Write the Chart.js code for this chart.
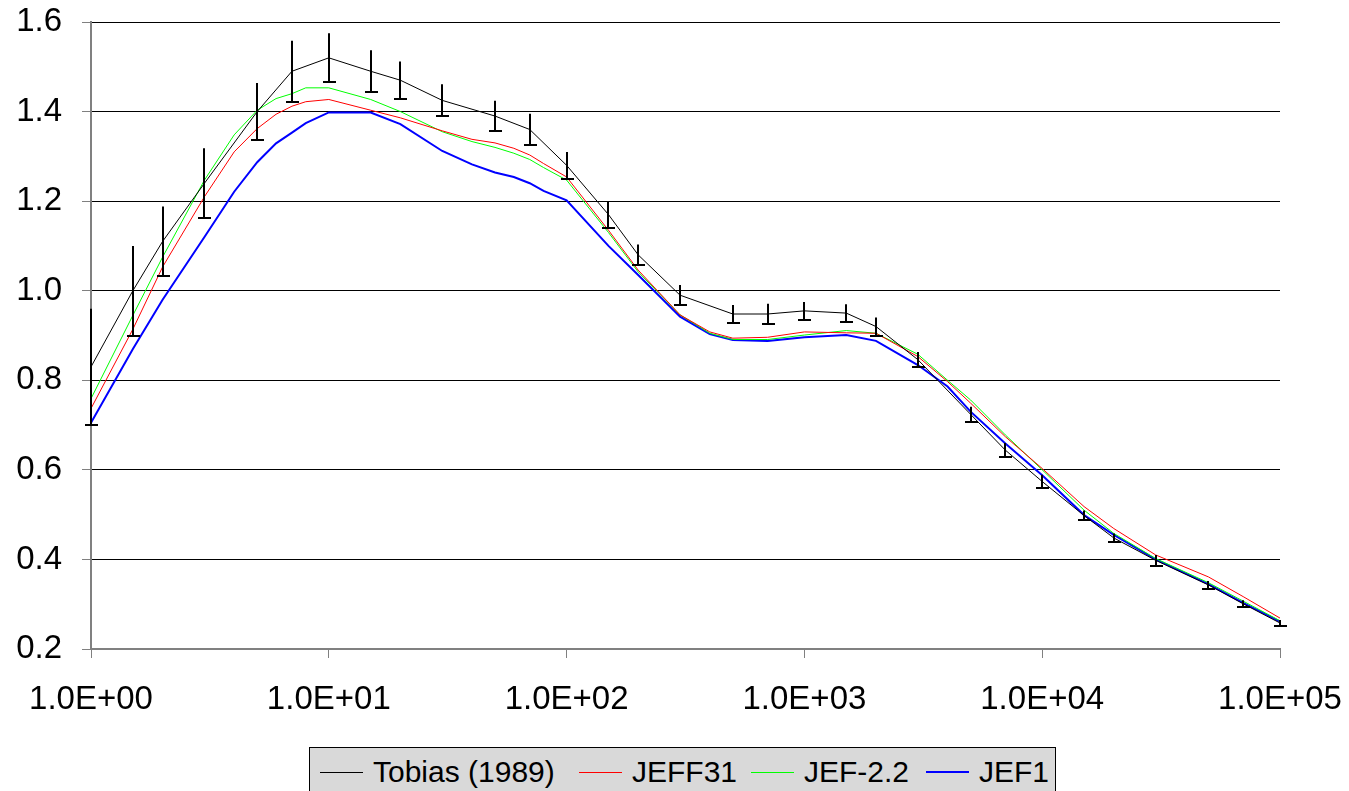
<!DOCTYPE html>
<html>
<head>
<meta charset="utf-8">
<script src="https://cdn.jsdelivr.net/npm/chart.js@4"></script>
<style>
  body { margin: 0; background: #fff; }
  #wrap { position: relative; width: 1349px; height: 791px; overflow: hidden; }
  #legenda {
    position: absolute; left: 309px; top: 747px; width: 747px; height: 60px;
    background: #d9d9d9; border: 1px solid #000; box-sizing: border-box;
    font-family: 'Liberation Sans', Arial, sans-serif; font-size: 30px; color: #000;
  }
  .item { position: absolute; top: 6px; display: flex; align-items: center; height: 36px; }
  .linia { display: inline-block; width: 43px; height: 0; margin-right: 10px; }
</style>
</head>
<body>
<div id="wrap">
  <canvas id="grafica" width="1349" height="791"></canvas>
  <div id="legenda"></div>
</div>
<script>
// energies of the measured points (Tobias 1989)
const tobiasE = [1, 1.5, 2, 3, 5, 7, 10, 15, 20, 30, 50, 70, 100, 150, 200, 300, 500, 700,
    1000, 1500, 2000, 3000, 5000, 7000, 1e4, 1.5e4, 2e4, 3e4, 5e4, 7e4, 1e5];
const tobias = [0.83, 1.0, 1.11, 1.24, 1.40, 1.49, 1.52, 1.49, 1.47, 1.425, 1.39, 1.36, 1.28, 1.17,
    1.08, 0.99, 0.948, 0.948, 0.955, 0.95, 0.92, 0.846, 0.724, 0.644, 0.574, 0.498, 0.448, 0.398,
    0.343, 0.301, 0.258];
const tobiasErr = [0.13, 0.1, 0.078, 0.078, 0.064, 0.068, 0.055, 0.047, 0.042, 0.036, 0.034, 0.035,
    0.03, 0.03, 0.023, 0.023, 0.02, 0.023, 0.02, 0.02, 0.02, 0.017, 0.017, 0.016, 0.015, 0.011,
    0.01, 0.012, 0.009, 0.008, 0.007];

// energies of the evaluated curves
const evalE = [1, 1.5, 2, 3, 4, 5, 6, 7, 8, 10, 15, 20, 30, 40, 50, 60, 70, 80, 100, 150, 200, 300,
    400, 500, 700, 1000, 1500, 2000, 3000, 4000, 5000, 7000, 1e4, 1.5e4, 2e4, 3e4, 5e4, 7e4, 1e5];
const jeff31 = [0.737, 0.914, 1.053, 1.21, 1.31, 1.362, 1.394, 1.412, 1.422, 1.427, 1.403, 1.386,
    1.357, 1.338, 1.33, 1.318, 1.303, 1.284, 1.254, 1.135, 1.046, 0.946, 0.908, 0.894, 0.896, 0.908,
    0.906, 0.905, 0.853, 0.797, 0.749, 0.674, 0.603, 0.518, 0.469, 0.41, 0.361, 0.317, 0.269];
const jef22 = [0.759, 0.945, 1.075, 1.247, 1.348, 1.403, 1.429, 1.44, 1.453, 1.453, 1.427, 1.40,
    1.355, 1.333, 1.32, 1.307, 1.293, 1.275, 1.247, 1.13, 1.042, 0.946, 0.905, 0.891, 0.891, 0.901,
    0.911, 0.905, 0.858, 0.80, 0.756, 0.678, 0.60, 0.51, 0.458, 0.402, 0.348, 0.307, 0.263];
const jef1 = [0.705, 0.87, 0.98, 1.12, 1.221, 1.287, 1.329, 1.353, 1.374, 1.398, 1.398, 1.372,
    1.312, 1.282, 1.264, 1.254, 1.24, 1.223, 1.202, 1.10, 1.035, 0.942, 0.903, 0.89, 0.888, 0.896,
    0.901, 0.888, 0.834, 0.786, 0.73, 0.659, 0.588, 0.499, 0.455, 0.40, 0.345, 0.303, 0.261];

const xTicks = [1, 10, 100, 1000, 1e4, 1e5];
const xTickLabels = ['1.0E+00', '1.0E+01', '1.0E+02', '1.0E+03', '1.0E+04', '1.0E+05'];
const yTicks = [0.2, 0.4, 0.6, 0.8, 1.0, 1.2, 1.4, 1.6];
const yTickLabels = ['0.2', '0.4', '0.6', '0.8', '1.0', '1.2', '1.4', '1.6'];

const series = [
    { label: 'Tobias (1989)', e: tobiasE, v: tobias, color: '#000000', width: 1 },
    { label: 'JEFF31', e: evalE, v: jeff31, color: '#ff0000', width: 1 },
    { label: 'JEF-2.2', e: evalE, v: jef22, color: '#00ff00', width: 1 },
    { label: 'JEF1', e: evalE, v: jef1, color: '#0000ff', width: 2 }
];

const font = 'Liberation Sans, Arial, sans-serif';

// error bars of the measurement: vertical bar with a cap only at the lower end
const barresError = {
    id: 'barresError',
    afterDatasetsDraw(chart) {
        const { ctx, scales: { x, y } } = chart;
        ctx.save();
        ctx.strokeStyle = '#000';
        ctx.lineWidth = 2;
        tobiasE.forEach((e, i) => {
            const px = Math.round(x.getPixelForValue(e));
            const dalt = y.getPixelForValue(tobias[i] + tobiasErr[i]);
            const baix = Math.round(y.getPixelForValue(tobias[i] - tobiasErr[i]));
            ctx.beginPath();
            ctx.moveTo(px, dalt);
            ctx.lineTo(px, baix);
            ctx.moveTo(px - 6, baix);
            ctx.lineTo(px + 7, baix);
            ctx.stroke();
        });
        ctx.restore();
    }
};

new Chart(document.getElementById('grafica').getContext('2d'), {
    type: 'line',
    data: {
        datasets: series.map(s => ({
            label: s.label,
            data: s.e.map((e, i) => ({ x: e, y: s.v[i] })),
            borderColor: s.color,
            borderWidth: s.width,
            pointRadius: 0,
            tension: 0,
            fill: false
        }))
    },
    options: {
        responsive: false,
        animation: false,
        devicePixelRatio: 1,
        layout: { padding: { left: 0, right: 69, top: 22, bottom: 0 } },
        scales: {
            x: {
                type: 'logarithmic',
                min: 1,
                max: 1e5,
                afterBuildTicks: s => { s.ticks = xTicks.map(v => ({ value: v })); },
                afterFit: s => {
                    s.height = 142;
                    s.paddingLeft = 0;
                    s.paddingRight = 0;
                },
                ticks: {
                    callback: (v, i) => xTickLabels[i],
                    font: { family: font, size: 33 },
                    color: '#000',
                    padding: 22,
                    maxRotation: 0,
                    autoSkip: false
                },
                grid: { drawOnChartArea: false, tickLength: 9, tickColor: '#808080', tickWidth: 1 },
                border: { color: '#808080', width: 2 }
            },
            y: {
                min: 0.2,
                max: 1.6,
                afterBuildTicks: s => { s.ticks = yTicks.map(v => ({ value: v })); },
                afterFit: s => {
                    s.width = 91;
                    s.paddingTop = 0;
                    s.paddingBottom = 0;
                },
                ticks: {
                    callback: (v, i) => yTickLabels[i],
                    font: { family: font, size: 33 },
                    color: '#000',
                    padding: 20
                },
                grid: { color: '#000', lineWidth: 1, tickLength: 9, tickColor: '#808080' },
                border: { color: '#808080', width: 2 }
            }
        },
        plugins: {
            legend: { display: false },
            tooltip: { enabled: false }
        }
    },
    plugins: [barresError]
});

// legend as a boxed row, like the original
const posicions = [10, 269, 441, 616];
const legenda = document.getElementById('legenda');
series.forEach((s, i) => {
    const item = document.createElement('div');
    item.className = 'item';
    item.style.left = posicions[i] + 'px';
    const linia = document.createElement('span');
    linia.className = 'linia';
    linia.style.borderTop = s.width + 'px solid ' + s.color;
    const text = document.createElement('span');
    text.textContent = s.label;
    item.appendChild(linia);
    item.appendChild(text);
    legenda.appendChild(item);
});
</script>
</body>
</html>
